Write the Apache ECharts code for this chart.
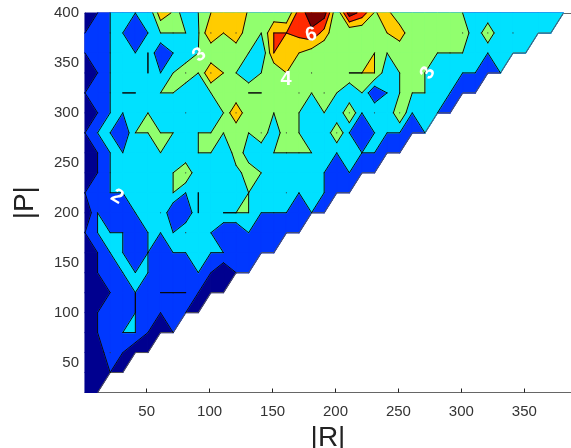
<!DOCTYPE html>
<html><head><meta charset="utf-8">
<style>html,body{margin:0;padding:0;background:#fff}#c{width:571px;height:448px}</style>
<script src="https://cdn.jsdelivr.net/npm/echarts@6/dist/echarts.min.js"></script>
</head><body><div id="c"></div>
<script>
// grid coordinates
var colStart = 1, colStep = 10, rowTop = 400, rowStep = 20;
var xTicks = [50,100,150,200,250,300,350];
var yTicks = [50,100,150,200,250,300,350,400];
var levels = [0,1,2,3,4,5,6];
var bandColors = ['#00008f','#0038ff','#00e1ff','#91ff6e','#ffcc00','#ff2a00','#7d0000'];
var P400=[0,1,2,2,2,2,4.6,3.87,2.2,3,4,4.6,4.6,3.9,3,3.2,3,5.5,6.5,6.5,3,6.6,5.6,3.9,4.4,3,3,3,3,3,3,2,2,2,2,2,2,2,2];
var P380=[1,1,2,2,1,2,3,3,3,2.9,5,4,5,3,3,5,5,5.3,5.8,4.6,3,3,3,3,4,4.7,3,3,3,3,4,2,4,2,3,2,2,2];
var P360=[1,1,2,2,2,3,1,2,2,3,3,3,3,3,2,5,4.5,4,3.5,3,3,3,3,4,3,3,3,3,3,3,3,2,2,2,2,2];
var P340=[0,1,2,2,2,3,2,3,4,3,5,4,3,2,3,3,4,3,4,3,3,4,4,4,2.3,3,3,3,2,2,2,2,1,2];
var P320=[1,1,2,3,3,2,3,3,2,2,3,3,3,4,4,3,3,4,3,4,3,2,3,1,2,3,3,3,2,2,1,1];
var P300=[0,1,2,2,2,3,2,2,3,2,2,3,5,3,3,3,3,3,2,3,2,4,2,3,2,4,2,2,2,1];
var P280=[1,2,2,1,3,3,3,3,2,3,3,3,3,3,4,2,4,3,2,2,4,2,1,2,2,2,1,2];
var P260=[0,1,2,2,2,2,3,2,2,3,3,2,3.5,2.6,2,3,3,3,3,2,2,2,2,2,1,1];
var P240=[0,1,2,2,2,2,2,3,4,2,2,2,2.7,3.4,3,2,2,2,2,2,1,2,1,1];
var P220=[1,1,2,2,2,2,2,3,2,3,2,2,2,3,2,2,3,2,2,2,1,1];
var P200=[0,2,1,1,2,2,3,1,1,3,2,3,3,3,2,2,2,1,2,1];
var P180=[1,2,2,2,1,2,2,2,3,2,2,1,1,2,1,1,1,1];
var P160=[0,1,2,2,1,2,1,2,2,2,2,2,1,1,1,1];
var P140=[0,1,1,2,2,2,1,1,1,2,1,0,1,1];
var P120=[0,0,1,1,2,1,2,2,2,1,0,0];
var P100=[0,1,1,1,2,1,1,1,1,0];
var P80=[0,1,1,2,2,1,0,1];
var P60=[0,0,2,1,0,0];
var P40=[0,0,1,0];
var P20=[0,0];
var rows=[P400,P380,P360,P340,P320,P300,P280,P260,P240,P220,P200,P180,P160,P140,P120,P100,P80,P60,P40,P20];
var contourLabels=[
 {t:'3',r:92,p:358,a:40},
 {t:'3',r:273.5,p:340,a:62},
 {t:'2',r:26.4,p:216,a:-30},
 {t:'4',r:160.7,p:333,a:0},
 {t:'6',r:180.6,p:378,a:15}
];

function val(i,j){var r=rows[j];return (r&&i>=0&&i<r.length)?r[i]:null;}
function rx(i){return colStart+colStep*i;}
function py(j){return rowTop-rowStep*j;}
function clipAbove(poly,L){
  var out=[],n=poly.length;
  for(var k=0;k<n;k++){
    var a=poly[k],b=poly[(k+1)%n];
    var ai=a[2]>=L, bi=b[2]>=L;
    if(ai)out.push(a);
    if(ai!==bi){
      var f=(L-a[2])/(b[2]-a[2]);
      out.push([a[0]+f*(b[0]-a[0]),a[1]+f*(b[1]-a[1]),L]);
    }
  }
  return out;
}
function cellPoly(i,j){
  var c=[[i,j],[i+1,j],[i+1,j+1],[i,j+1]],p=[];
  c.forEach(function(q){var v=val(q[0],q[1]);if(v!==null)p.push([rx(q[0]),py(q[1]),v]);});
  return p.length>=3?p:null;
}
function isSaddle(p,L){
  if(p.length!==4)return false;
  var a=p[0][2]>=L,b=p[1][2]>=L,c=p[2][2]>=L,d=p[3][2]>=L;
  return a===c&&b===d&&a!==b;
}
// at a saddle the cell is cut along a diagonal: the low one keeps the high corners apart, the high one joins them
function split(p,L){
  if(!isSaddle(p,L))return [p];
  var mean=(p[0][2]+p[1][2]+p[2][2]+p[3][2])/4-0.01;
  var acHigh=p[0][2]>=L;
  var cutAC=(mean<L)?!acHigh:acHigh;
  return cutAC?[[p[0],p[1],p[2]],[p[0],p[2],p[3]]]:[[p[1],p[2],p[3]],[p[1],p[3],p[0]]];
}
function area(p){var s=0;for(var k=0;k<p.length;k++){var a=p[k],b=p[(k+1)%p.length];s+=a[0]*b[1]-b[0]*a[1];}return Math.abs(s);}
// each band is painted as the whole region at or above its level, lowest first
function buildFills(){
  var out=[];
  for(var b=0;b<bandColors.length;b++){
    var L=levels[b];
    for(var j=0;j<rows.length-1;j++)for(var i=0;i<rows[j].length-1;i++){
      var p=cellPoly(i,j);if(!p)continue;
      split(p,L).forEach(function(t){
        var q=clipAbove(t,L);
        if(q.length>=3&&area(q)>1e-6)out.push({b:b,pts:q});
      });
    }
  }
  return out;
}
function buildLines(){
  var segs=[];
  for(var L=1;L<=6;L++){
    for(var j=0;j<rows.length-1;j++)for(var i=0;i<rows[j].length-1;i++){
      var c=cellPoly(i,j);if(!c)continue;
      split(c,L).forEach(function(p){
        var cr=[],n=p.length;
        for(var k=0;k<n;k++){
          var a=p[k],b=p[(k+1)%n];
          if((a[2]>=L)!==(b[2]>=L)){
            var f=(L-a[2])/(b[2]-a[2]);
            cr.push([a[0]+f*(b[0]-a[0]),a[1]+f*(b[1]-a[1])]);
          }
        }
        for(var m=0;m+1<cr.length;m+=2){
          var u=cr[m],w=cr[m+1];
          if(Math.abs(u[0]-w[0])+Math.abs(u[1]-w[1])>1e-6)segs.push([u,w]);
        }
      });
    }
  }
  return segs;
}
function buildDots(){
  var d=[];
  rows.forEach(function(r,j){r.forEach(function(v,i){
    if(v!==Math.round(v)||v<1)return;
    var nb=[val(i-1,j),val(i+1,j),val(i,j-1),val(i,j+1)].filter(function(x){return x!==null;});
    if(nb.length===4&&nb.every(function(x){return x<v;}))d.push([rx(i),py(j)]);
  });});
  return d;
}
function buildEdge(){
  var e=[];
  for(var j=0;j<rows.length;j++){
    var last=rows[j].length-1;
    e.push([rx(last),py(j)]);
    if(j+1<rows.length){
      var nx=rows[j+1].length-1;
      if(nx+1<last)e.push([rx(nx+1),py(j)]);
    }
  }
  return e;
}
var fills=buildFills(),lines=buildLines(),dots=buildDots(),edge=buildEdge();
var chart=echarts.init(document.getElementById('c'),null,{renderer:'canvas'});
var labelStyle={color:'#333',fontFamily:'Liberation Sans, Arial, sans-serif',fontSize:15};
chart.setOption({
  animation:false,
  backgroundColor:'#fff',
  grid:{left:85,right:0,top:13,bottom:55.5,outerBoundsMode:'none',containLabel:false},
  xAxis:[{type:'value',min:1,max:387.1,position:'bottom',splitLine:{show:false},
    axisLine:{show:true,onZero:false,lineStyle:{color:'#666',width:1}},
    axisTick:{show:true,inside:true,length:4,customValues:xTicks,lineStyle:{color:'#222'}},
    axisLabel:Object.assign({customValues:xTicks,margin:12},labelStyle),
    name:'|R|',nameLocation:'middle',nameGap:25,
    nameTextStyle:{color:'#222',fontFamily:'Liberation Sans, Arial, sans-serif',fontSize:28}},
   {type:'value',min:1,max:387.1,position:'top',splitLine:{show:false},
    axisLine:{show:true,onZero:false,lineStyle:{color:'#666',width:1}},
    axisTick:{show:true,inside:true,length:4,customValues:xTicks,lineStyle:{color:'#222'}},
    axisLabel:{show:false}}],
  yAxis:{type:'value',min:20,max:400,splitLine:{show:false},
    axisLine:{show:true,onZero:false,lineStyle:{color:'#666',width:1}},
    axisTick:{show:true,inside:true,length:4,customValues:yTicks,lineStyle:{color:'#222'}},
    axisLabel:Object.assign({customValues:yTicks,margin:6},labelStyle),
    name:'|P|',nameLocation:'middle',nameGap:46,
    nameTextStyle:{color:'#222',fontFamily:'Liberation Sans, Arial, sans-serif',fontSize:28}},
  series:[{
    type:'custom',coordinateSystem:'cartesian2d',clip:false,z:1,silent:true,
    data:[[1,20]],
    renderItem:function(params,api){
      var ch=[];
      fills.forEach(function(f){
        var c=bandColors[f.b];
        ch.push({type:'polygon',shape:{points:f.pts.map(function(q){return api.coord([q[0],q[1]]);})},
          style:{fill:c,stroke:c,lineWidth:1.1,lineJoin:'round'}});
      });
      ch.push({type:'polyline',shape:{points:edge.map(function(q){return api.coord(q);})},
        style:{fill:null,stroke:'#555',lineWidth:1}});
      lines.forEach(function(s){
        var a=api.coord(s[0]),b=api.coord(s[1]);
        ch.push({type:'line',shape:{x1:a[0],y1:a[1],x2:b[0],y2:b[1]},style:{stroke:'#0a0a0a',lineWidth:1,lineCap:'round'}});
      });
      dots.forEach(function(d){
        var a=api.coord(d);
        ch.push({type:'circle',shape:{cx:a[0],cy:a[1],r:0.6},style:{fill:'#333'}});
      });
      contourLabels.forEach(function(l){
        var a=api.coord([l.r,l.p]);
        ch.push({type:'text',x:a[0],y:a[1],rotation:l.a*Math.PI/180,
          style:{text:l.t,fill:'#fff',fontFamily:'Liberation Sans, Arial, sans-serif',fontWeight:'bold',fontSize:20,align:'center',verticalAlign:'middle'}});
      });
      return {type:'group',children:ch};
    }
  }]
});
</script></body></html>
